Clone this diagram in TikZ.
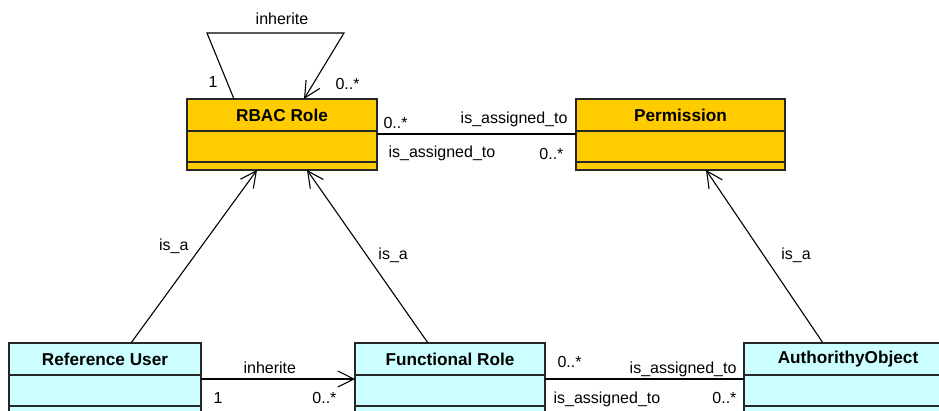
\documentclass[tikz,border=0pt]{standalone}
\usepackage{fontspec}
\setmainfont{Liberation Sans}
\usetikzlibrary{positioning,arrows.meta}
\definecolor{gold}{HTML}{FFCC00}
\definecolor{pale}{HTML}{CCFFFF}

\begin{document}
\begin{tikzpicture}[x=1pt, y=-1pt,
    cls/.style={draw=black!85, line width=1.3pt, inner sep=0pt, outer sep=0pt,
                minimum height=32pt, font=\fontsize{17.2}{20}\selectfont\bfseries},
    part/.style={draw=black!85, line width=1.3pt, inner sep=0pt, outer sep=0pt, minimum height=31pt},
    ops/.style={part, minimum height=8pt},
    assoc/.style={line width=1.1pt},
    arrow/.style={assoc, -{Straight Barb[length=16pt,width=16pt]}},
    lbl/.style={font=\fontsize{16}{19}\selectfont, inner sep=0pt}
  ]
    \useasboundingbox (0,0) rectangle (939,410);
    \clip (0,0) rectangle (939,410);

    % classes, top row
    \node[cls, fill=gold, minimum width=190pt] (rbac) at (282,115) {RBAC Role};
    \node[part, fill=gold, minimum width=190pt, below=0pt of rbac] (rbacAttr) {};
    \node[ops, fill=gold, minimum width=190pt, below=0pt of rbacAttr] (rbacOps) {};

    \node[cls, fill=gold, minimum width=209pt] (perm) at (680.5,115) {Permission};
    \node[part, fill=gold, minimum width=209pt, below=0pt of perm] (permAttr) {};
    \node[ops, fill=gold, minimum width=209pt, below=0pt of permAttr] (permOps) {};

    % classes, bottom row
    \node[cls, fill=pale, minimum width=192pt] (ref) at (105,359) {Reference User};
    \node[part, fill=pale, minimum width=192pt, below=0pt of ref] (refAttr) {};
    \node[ops, fill=pale, minimum width=192pt, below=0pt of refAttr] (refOps) {};

    \node[cls, fill=pale, minimum width=190pt] (func) at (450,359) {Functional Role};
    \node[part, fill=pale, minimum width=190pt, below=0pt of func] (funcAttr) {};
    \node[ops, fill=pale, minimum width=190pt, below=0pt of funcAttr] (funcOps) {};

    \node[cls, fill=pale, minimum width=208pt] (auth) at (848,359) {AuthorithyObject};
    \node[part, fill=pale, minimum width=208pt, below=0pt of auth] (authAttr) {};
    \node[ops, fill=pale, minimum width=208pt, below=0pt of authAttr] (authOps) {};

    % self inheritance of RBAC Role
    \coordinate (loopL) at (207,33);
    \coordinate (loopR) at (344,33);
    \draw[arrow] ([xshift=-48pt]rbac.north) -- (loopL)
        node[lbl, pos=0, anchor=base west, xshift=-26pt, yshift=12pt] {1}
      -- (loopR) node[lbl, pos=0.547, anchor=base, yshift=9pt] {inherite}
      -- ([xshift=22pt]rbac.north)
        node[lbl, pos=1, anchor=base west, xshift=31pt, yshift=10pt] {0..*};

    % associations
    \draw[assoc] ([yshift=-3pt]rbac.south east) -- ([yshift=-3pt]perm.south west)
      node[lbl, pos=0, anchor=base west, xshift=6pt, yshift=6pt] {0..*}
      node[lbl, pos=1, anchor=base east, xshift=-8pt, yshift=11pt] {is\_assigned\_to}
      node[lbl, pos=0, anchor=base west, xshift=11pt, yshift=-23pt] {is\_assigned\_to}
      node[lbl, pos=1, anchor=base east, xshift=-12pt, yshift=-25pt] {0..*};

    \draw[arrow] ([yshift=-4pt]ref.south east) -- ([yshift=-4pt]func.south west)
      node[lbl, pos=0, anchor=base west, xshift=42pt, yshift=6pt] {inherite}
      node[lbl, pos=0, anchor=base west, xshift=12pt, yshift=-24pt] {1}
      node[lbl, pos=1, anchor=base east, xshift=-18pt, yshift=-24pt] {0..*};

    \draw[assoc] ([yshift=-4pt]func.south east) -- ([yshift=-4pt]auth.south west)
      node[lbl, pos=0, anchor=base west, xshift=12pt, yshift=12pt] {0..*}
      node[lbl, pos=1, anchor=base east, xshift=-7pt, yshift=6pt] {is\_assigned\_to}
      node[lbl, pos=0, anchor=base west, xshift=8pt, yshift=-24pt] {is\_assigned\_to}
      node[lbl, pos=1, anchor=base east, xshift=-7pt, yshift=-24pt] {0..*};

    % generalisations
    \draw[arrow] ([xshift=26pt]ref.north) -- ([xshift=-25pt]rbacOps.south)
      node[lbl, pos=0.532, anchor=base east, xshift=-9pt] {is\_a};
    \draw[arrow] ([xshift=-22pt]func.north) -- ([xshift=25pt]rbacOps.south)
      node[lbl, pos=0.48, anchor=base west, xshift=8pt] {is\_a};
    \draw[arrow] ([xshift=-25pt]auth.north) -- ([xshift=25.5pt]permOps.south)
      node[lbl, pos=0.48, anchor=base west, xshift=14pt] {is\_a};
  \end{tikzpicture}
\end{document}
